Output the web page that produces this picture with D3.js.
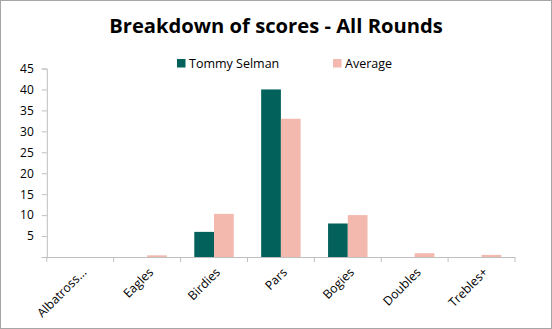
<!DOCTYPE html>
<html>
<head>
<meta charset="utf-8">
<script src="https://cdn.jsdelivr.net/npm/d3@7"></script>
<style>
  body { margin: 0; background: #fff; }
  svg { display: block; font-family: "Open Sans", "Noto Sans", sans-serif; }
</style>
</head>
<body>
<div id="vis"></div>
<script>
// Data
var categories = ["Albatross...", "Eagles", "Birdies", "Pars", "Bogies", "Doubles", "Trebles+"];
var seriesNames = ["Tommy Selman", "Average"];
var tommyValues = [0, 0, 6, 40, 8, 0, 0];
var averageValues = [0, 0.4, 10.3, 33, 10, 0.9, 0.5];
var yTicks = [5, 10, 15, 20, 25, 30, 35, 40, 45];

var width = 552, height = 329;
var colors = ["#02625b", "#f3b9ae"];

var svg = d3.select("#vis").append("svg")
    .attr("width", width)
    .attr("height", height);

// frame
svg.append("rect")
    .attr("x", 0.5).attr("y", 0.5)
    .attr("width", width - 1).attr("height", height - 1)
    .attr("fill", "#fff").attr("stroke", "#a6a6a6");

// title
svg.append("text")
    .attr("x", 276).attr("y", 33)
    .attr("text-anchor", "middle")
    .attr("font-size", 20.2).attr("font-weight", "bold")
    .attr("fill", "#000")
    .text("Breakdown of scores - All Rounds");

// scales
var x = d3.scaleBand().domain(categories).range([46.8, 515]);
var xInner = d3.scaleBand().domain(seriesNames)
    .range([x.bandwidth() * 0.205, x.bandwidth() * 0.795]);
var y = d3.scaleLinear().domain([0, 45]).range([257, 68.5]);

// bars
var rows = categories.map(function(c, i) {
    return { cat: c, vals: [tommyValues[i], averageValues[i]] };
});
var groups = svg.append("g").selectAll("g")
    .data(rows).enter().append("g")
    .attr("transform", function(d) { return "translate(" + x(d.cat) + ",0)"; });
groups.selectAll("rect")
    .data(function(d) { return d.vals.map(function(v, j) { return { s: seriesNames[j], v: v, j: j }; }); })
    .enter().append("rect")
    .attr("x", function(d) { return xInner(d.s); })
    .attr("width", xInner.bandwidth())
    .attr("y", function(d) { return y(d.v); })
    .attr("height", function(d) { return y(0) - y(d.v); })
    .attr("fill", function(d) { return colors[d.j]; });

// y axis
var yAxis = svg.append("g")
    .attr("transform", "translate(46.8,0)")
    .call(d3.axisLeft(y).tickValues([0].concat(yTicks)).tickSize(5).tickPadding(8)
        .tickFormat(function(d) { return d === 0 ? "" : d; }));
yAxis.select(".domain").attr("stroke", "#bfbfbf");
yAxis.selectAll(".tick line").attr("stroke", "#bfbfbf");
yAxis.selectAll("text").attr("font-size", 12).attr("fill", "#000")
    .attr("font-family", "'Open Sans', 'Noto Sans', sans-serif");

// x axis: ticks at band edges
var edges = categories.map(function(c) { return x(c); }).concat([x.range()[1]]);
var xg = svg.append("g");
xg.append("line")
    .attr("x1", 41.8).attr("x2", 515)
    .attr("y1", y(0) + 0.5).attr("y2", y(0) + 0.5)
    .attr("stroke", "#bfbfbf");
xg.selectAll(".edge").data(edges).enter().append("line")
    .attr("x1", function(d) { return d; }).attr("x2", function(d) { return d; })
    .attr("y1", y(0)).attr("y2", y(0) + 5)
    .attr("stroke", "#bfbfbf");
xg.selectAll(".lab").data(categories).enter().append("text")
    .attr("transform", function(d) {
        return "translate(" + (x(d) + x.bandwidth() / 2 + 7) + "," + (y(0) + 16) + ") rotate(-45)";
    })
    .attr("text-anchor", "end")
    .attr("font-size", 12.3)
    .attr("fill", "#000")
    .text(function(d) { return d; });

// legend
var legendX = [177, 333];
var legend = svg.append("g").selectAll("g")
    .data(seriesNames).enter().append("g")
    .attr("transform", function(d, i) { return "translate(" + legendX[i] + ",59)"; });
legend.append("rect")
    .attr("width", 8.5).attr("height", 8.5)
    .attr("fill", function(d, i) { return colors[i]; });
legend.append("text")
    .attr("x", 12).attr("y", 8.5)
    .attr("font-size", 12.5)
    .attr("fill", "#000")
    .text(function(d) { return d; });
</script>
</body>
</html>
